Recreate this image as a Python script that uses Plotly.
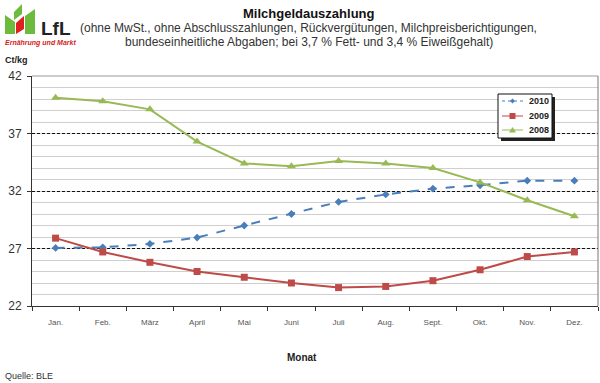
import plotly.graph_objects as go

months = ["Jan.", "Feb.", "März", "April", "Mai", "Juni", "Juli", "Aug.", "Sept.", "Okt.", "Nov.", "Dez."]
v2010 = [27.05, 27.1, 27.4, 27.95, 29.0, 30.0, 31.05, 31.7, 32.2, 32.5, 32.9, 32.9]
v2009 = [27.9, 26.7, 25.8, 25.0, 24.5, 24.0, 23.6, 23.7, 24.2, 25.15, 26.3, 26.7]
v2008 = [40.1, 39.8, 39.1, 36.3, 34.4, 34.15, 34.6, 34.4, 34.0, 32.75, 31.2, 29.8]
series_names = ["2010", "2009", "2008"]
y_ticks = [22, 27, 32, 37, 42]

W, H = 600, 383
L, R, T, B = 32, 2, 76, 77
PW, PH = W - L - R, H - T - B

def px(x):
    return (x - L) / PW

def py(y):
    return (H - B - y) / PH

FONT = "Liberation Sans, Arial, sans-serif"
COLORS = ["#4a7ebb", "#be4b48", "#98b954"]

fig = go.Figure()
fig.add_trace(go.Scatter(x=months, y=v2010, name=series_names[0], mode="lines+markers",
                         line=dict(color=COLORS[0], width=2, dash="dash"),
                         marker=dict(symbol="diamond", size=6, color=COLORS[0])))
fig.add_trace(go.Scatter(x=months, y=v2009, name=series_names[1], mode="lines+markers",
                         line=dict(color=COLORS[1], width=2),
                         marker=dict(symbol="square", size=7, color=COLORS[1])))
fig.add_trace(go.Scatter(x=months, y=v2008, name=series_names[2], mode="lines+markers",
                         line=dict(color=COLORS[2], width=2),
                         marker=dict(symbol="triangle-up", size=8, color=COLORS[2])))

def path(pts):
    return "M " + " L ".join(f"{px(x):.5f},{py(y):.5f}" for x, y in pts) + " Z"

shapes = []
# plot border: right and top in gray
shapes.append(dict(type="line", xref="paper", yref="paper", x0=0, x1=1, y0=1, y1=1,
                   line=dict(color="#999", width=1), layer="above"))
shapes.append(dict(type="line", xref="paper", yref="paper", x0=1, x1=1, y0=0, y1=1,
                   line=dict(color="#777", width=1), layer="above"))
# manual compact legend (box with shadow)
lx0, lx1, ly0, ly1 = 498, 552, 94, 138
shapes.append(dict(type="rect", xref="paper", yref="paper",
                   x0=px(lx0 + 3), x1=px(lx1 + 3), y0=py(ly1 + 3), y1=py(ly0 + 3),
                   fillcolor="#222", line=dict(width=0), layer="above"))
shapes.append(dict(type="rect", xref="paper", yref="paper",
                   x0=px(lx0), x1=px(lx1), y0=py(ly1), y1=py(ly0),
                   fillcolor="white", line=dict(color="#111", width=1), layer="above"))
leg_rows = [101, 116, 130]
dashes = ["dot", "solid", "solid"]
for i, yy in enumerate(leg_rows):
    shapes.append(dict(type="line", xref="paper", yref="paper",
                       x0=px(502), x1=px(523), y0=py(yy), y1=py(yy),
                       line=dict(color=COLORS[i], width=1, dash=dashes[i]), layer="above"))
cx = 512.5
shapes.append(dict(type="path", xref="paper", yref="paper", layer="above",
                   path=path([(cx, 98.5), (cx + 2.5, 101), (cx, 103.5), (cx - 2.5, 101)]),
                   fillcolor=COLORS[0], line=dict(width=0)))
shapes.append(dict(type="path", xref="paper", yref="paper", layer="above",
                   path=path([(cx - 3, 113), (cx + 3, 113), (cx + 3, 119), (cx - 3, 119)]),
                   fillcolor=COLORS[1], line=dict(width=0)))
shapes.append(dict(type="path", xref="paper", yref="paper", layer="above",
                   path=path([(cx, 127), (cx + 3.5, 132.5), (cx - 3.5, 132.5)]),
                   fillcolor=COLORS[2], line=dict(width=0)))

# logo
logo = [
    ([(5, 15), (15, 22), (15, 34), (5, 34)], "#6dbb3c"),
    ([(14, 12), (22, 4), (22, 14), (14, 20)], "#6dbb3c"),
    ([(16, 23), (24, 16), (24, 29), (16, 34)], "#e02020"),
    ([(25, 16), (35, 9), (35, 34), (25, 34)], "#6dbb3c"),
]
for pts, col in logo:
    shapes.append(dict(type="path", xref="paper", yref="paper", path=path(pts),
                       fillcolor=col, line=dict(width=0)))

annotations = [
    dict(text="<b>Milchgeldauszahlung</b>", x=px(309), y=py(13), font=dict(size=13, color="#111")),
    dict(text="(ohne MwSt., ohne Abschlusszahlungen, Rückvergütungen, Milchpreisberichtigungen,",
         x=px(308.5), y=py(28), font=dict(size=12, color="#333")),
    dict(text="bundeseinheitliche Abgaben; bei 3,7 % Fett- und 3,4 % Eiweißgehalt)",
         x=px(308.5), y=py(42), font=dict(size=12, color="#333")),
    dict(text="<b>LfL</b>", x=px(39), y=py(28), xanchor="left", font=dict(size=19, color="#222")),
    dict(text="<b><i>Ernährung und Markt</i></b>", x=px(3), y=py(43), xanchor="left",
         font=dict(size=7, color="#d62020")),
    dict(text="<b>Ct/kg</b>", x=px(3), y=py(60), xanchor="left", font=dict(size=9, color="#222")),
    dict(text="<b>Monat</b>", x=px(302), y=py(357), font=dict(size=10, color="#222")),
    dict(text="Quelle: BLE", x=px(3), y=py(376), xanchor="left", font=dict(size=9, color="#333")),
]
for i, yy in enumerate(leg_rows):
    annotations.append(dict(text=f"<b>{series_names[i]}</b>", x=px(527), y=py(yy), xanchor="left",
                            font=dict(size=9, color="#222")))
for a in annotations:
    a.update(xref="paper", yref="paper", showarrow=False)
    a.setdefault("xanchor", "center")
    a["yanchor"] = "middle"

fig.update_layout(
    width=W, height=H,
    margin=dict(l=L, r=R, t=T, b=B),
    paper_bgcolor="white", plot_bgcolor="white",
    font=dict(family=FONT, color="#333"),
    showlegend=False,
    shapes=shapes,
    annotations=annotations,
    xaxis=dict(type="category", range=[-0.5, 11.5], showgrid=False,
               showline=True, linecolor="#333", linewidth=1,
               ticks="outside", tickson="boundaries", ticklen=4, tickcolor="#333",
               ticklabelstandoff=8,
               tickfont=dict(size=8, color="#555")),
    yaxis=dict(range=[22, 42], tickvals=y_ticks, showgrid=True,
               gridcolor="#111", griddash="3px,2px", gridwidth=1,
               showline=True, linecolor="#333", linewidth=1,
               ticks="outside", ticklen=4, tickcolor="#333",
               ticklabelstandoff=3,
               tickfont=dict(size=12, color="#333"),
               minor=dict(dtick=1, tick0=22, showgrid=True, gridcolor="#cfcfcf",
                          gridwidth=1, griddash="solid"),
               zeroline=False),
)

fig.write_html("out.html", config={"displayModeBar": False},
               post_script="document.body.style.margin='0';document.body.style.overflow='hidden';")
